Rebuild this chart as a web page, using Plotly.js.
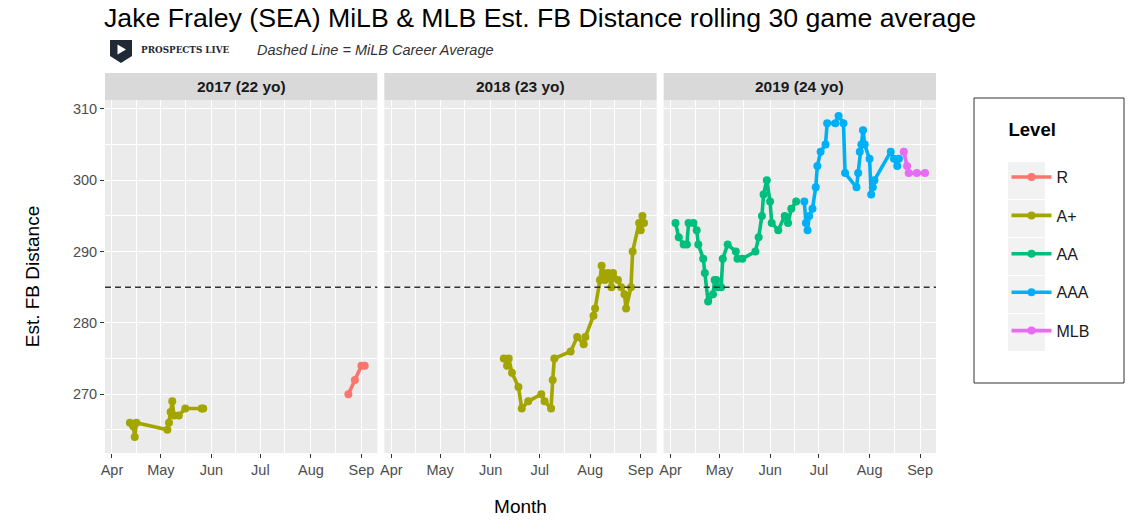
<!DOCTYPE html>
<html><head><meta charset="utf-8">
<script src="https://cdn.plot.ly/plotly-3.0.1.min.js"></script>
<style>body{margin:0;background:#fff}#chart{width:1136px;height:530px}</style>
</head><body><div id="chart"></div>
<script>
// ---------------- DATA ----------------
const levels = ['R', 'A+', 'AA', 'AAA', 'MLB'];
const levelColors = ['#F8766D', '#A3A500', '#00BF7D', '#00B0F6', '#E76BF3'];
const panelTitles = ['2017 (22 yo)', '2018 (23 yo)', '2019 (24 yo)'];
const panelYears = [2017, 2018, 2019];
const careerAvg = 285;

const d2017_Aplus_dates = ['2017-04-12','2017-04-14','2017-04-15','2017-04-16','2017-05-05','2017-05-06','2017-05-07','2017-05-08','2017-05-09','2017-05-12','2017-05-16','2017-05-26','2017-05-27'];
const d2017_Aplus_vals  = [266, 265.5, 264, 266, 265, 266, 267.5, 269, 267, 267, 268, 268, 268];
const d2017_R_dates = ['2017-08-24','2017-08-28','2017-09-01','2017-09-03'];
const d2017_R_vals  = [270, 272, 274, 274];

const d2018_Aplus_dates = ['2018-06-09','2018-06-11','2018-06-12','2018-06-14','2018-06-18','2018-06-20','2018-06-24','2018-07-02','2018-07-04','2018-07-08','2018-07-09','2018-07-10','2018-07-20','2018-07-24','2018-07-28','2018-07-29','2018-08-03','2018-08-04','2018-08-07','2018-08-08','2018-08-09','2018-08-10','2018-08-12','2018-08-14','2018-08-15','2018-08-18','2018-08-20','2018-08-22','2018-08-23','2018-08-26','2018-08-27','2018-08-31','2018-09-01','2018-09-02','2018-09-03'];
const d2018_Aplus_vals  = [275, 274, 275, 273, 271, 268, 269, 270, 269, 268, 272, 275, 276, 278, 277, 278, 281, 282, 286, 288, 287, 286, 287, 285, 287, 286, 285, 284, 282, 285, 290, 294, 293, 295, 294];

const d2019_AA_dates = ['2019-04-04','2019-04-06','2019-04-09','2019-04-11','2019-04-12','2019-04-15','2019-04-17','2019-04-18','2019-04-21','2019-04-22','2019-04-24','2019-04-27','2019-04-28','2019-04-29','2019-04-30','2019-05-02','2019-05-03','2019-05-06','2019-05-11','2019-05-12','2019-05-15','2019-05-23','2019-05-25','2019-05-27','2019-05-28','2019-05-30','2019-06-01','2019-06-02','2019-06-06','2019-06-10','2019-06-12','2019-06-14','2019-06-17'];
const d2019_AA_vals  = [294, 292, 291, 291, 294, 294, 293, 291, 289, 287, 283, 284, 286, 286, 285, 285, 289, 291, 290, 289, 289, 290, 292, 295, 298, 300, 297, 294, 293, 295, 294, 296, 297];
const d2019_AAA_dates = ['2019-06-22','2019-06-23','2019-06-24','2019-06-25','2019-06-27','2019-06-29','2019-06-30','2019-07-02','2019-07-05','2019-07-06','2019-07-11','2019-07-13','2019-07-16','2019-07-17','2019-07-24','2019-07-25','2019-07-26','2019-07-27','2019-07-28','2019-07-29','2019-08-01','2019-08-02','2019-08-03','2019-08-04','2019-08-14','2019-08-16','2019-08-18','2019-08-19'];
const d2019_AAA_vals  = [297, 294, 293, 295, 296, 299, 302, 304, 305, 308, 308, 309, 308, 301, 299, 301, 304, 305, 307, 305, 303, 298, 299, 300, 304, 303, 302, 303];
const d2019_MLB_dates = ['2019-08-22','2019-08-24','2019-08-25','2019-08-30','2019-09-04'];
const d2019_MLB_vals  = [304, 302, 301, 301, 301];

const yTicks = [270, 280, 290, 300, 310];

// ---------------- LAYOUT HELPERS ----------------
const W = 1136, H = 530, ML = 105, MR = 200, MT = 100, MB = 77;
const PW = W - ML - MR, PH = H - MT - MB;
const px = x => (x - ML) / PW;
const py = y => (H - MB - y) / PH;

const panelSeries = [
  [['A+', d2017_Aplus_dates, d2017_Aplus_vals], ['R', d2017_R_dates, d2017_R_vals]],
  [['A+', d2018_Aplus_dates, d2018_Aplus_vals]],
  [['AA', d2019_AA_dates, d2019_AA_vals], ['AAA', d2019_AAA_dates, d2019_AAA_vals], ['MLB', d2019_MLB_dates, d2019_MLB_vals]]
];

const traces = [];
const shown = {};
panelSeries.forEach((series, p) => {
  series.forEach(([lvl, dates, vals]) => {
    const li = levels.indexOf(lvl);
    traces.push({
      type: 'scatter', mode: 'lines+markers',
      x: dates, y: vals,
      xaxis: p === 0 ? 'x' : 'x' + (p + 1),
      yaxis: p === 0 ? 'y' : 'y' + (p + 1),
      name: lvl, legendgroup: lvl, legendrank: li + 1,
      showlegend: !shown[lvl],
      line: {color: levelColors[li], width: 3.6},
      marker: {color: levelColors[li], size: 8},
      hoverinfo: 'x+y+name'
    });
    shown[lvl] = true;
  });
});

const gap = 7 / PW;
const pw = (1 - 2 * gap) / 3;
const domains = [[0, pw], [pw + gap, 2 * pw + gap], [1 - pw, 1]];

const font = 'Liberation Sans, Arial, sans-serif';
const layout = {
  width: W, height: H,
  margin: {l: ML, r: MR, t: MT, b: MB, pad: 0},
  paper_bgcolor: '#FFFFFF', plot_bgcolor: '#EBEBEB',
  font: {family: font, color: '#4D4D4D', size: 14.5},
  title: {text: 'Jake Fraley (SEA) MiLB & MLB Est. FB Distance rolling 30 game average',
          font: {family: font, size: 26.7, color: '#000000'},
          xref: 'container', x: 104 / W, xanchor: 'left',
          yref: 'container', y: 1 - 18 / H, yanchor: 'middle'},
  showlegend: true,
  legend: {
    x: px(1006.5), xanchor: 'left', y: py(112), yanchor: 'top',
    bgcolor: 'rgba(0,0,0,0)', borderwidth: 0,
    font: {family: font, size: 16, color: '#1A1A1A'},
    title: {text: '<b>Level</b><br> ', font: {family: font, size: 18.5, color: '#000000'}},
    itemwidth: 40,
    tracegroupgap: 14.6, traceorder: 'grouped', itemclick: false
  },
  shapes: [], annotations: []
};
// nudge legend items slightly lower relative to the title
layout.legend.title.text = '<b>Level</b><br><span style="font-size:21px"> </span>';

panelSeries.forEach((s, p) => {
  const xa = p === 0 ? 'xaxis' : 'xaxis' + (p + 1);
  const ya = p === 0 ? 'yaxis' : 'yaxis' + (p + 1);
  const yr = panelYears[p];
  layout[xa] = {
    domain: domains[p], anchor: p === 0 ? 'y' : 'y' + (p + 1),
    type: 'date', range: [yr + '-03-27 18:00', yr + '-09-10 18:00'],
    tick0: yr + '-04-01', dtick: 'M1', tickformat: '%b',
    ticks: 'outside', ticklen: 4, tickwidth: 1, tickcolor: '#333333',
    showgrid: true, gridcolor: '#FFFFFF', gridwidth: 1.3,
    minor: {tick0: yr + '-04-16', dtick: 'M1', showgrid: true, gridcolor: '#FFFFFF', gridwidth: 0.6, ticks: ''},
    zeroline: false, showline: false, fixedrange: true,
    tickfont: {family: font, size: 14.5, color: '#4D4D4D'}
  };
  layout[ya] = {
    domain: [0, 1], anchor: p === 0 ? 'x' : 'x' + (p + 1),
    range: [261.75, 311.25], tickvals: yTicks,
    ticks: p === 0 ? 'outside' : '', ticklen: 4, tickwidth: 1, tickcolor: '#333333',
    showticklabels: p === 0,
    showgrid: true, gridcolor: '#FFFFFF', gridwidth: 1.3,
    minor: {dtick: 5, tick0: 265, showgrid: true, gridcolor: '#FFFFFF', gridwidth: 0.6, ticks: ''},
    zeroline: false, showline: false, fixedrange: true,
    tickfont: {family: font, size: 14.5, color: '#4D4D4D'}
  };
  if (p > 0) layout[ya].matches = 'y';
  const xr = p === 0 ? 'x' : 'x' + (p + 1);
  const yrf = p === 0 ? 'y' : 'y' + (p + 1);
  // career average dashed line
  layout.shapes.push({type: 'line', xref: xr + ' domain', yref: yrf, x0: 0, x1: 1, y0: careerAvg, y1: careerAvg,
    line: {color: '#333333', width: 1.5, dash: '6px,4px'}, layer: 'above'});
  // strip
  layout.shapes.push({type: 'rect', xref: xr + ' domain', yref: 'paper', x0: 0, x1: 1, y0: 1, y1: 1 + 27 / PH,
    fillcolor: '#D9D9D9', line: {width: 0}, layer: 'above'});
  layout.annotations.push({xref: xr + ' domain', yref: 'paper', x: 0.5, y: 1 + 13.5 / PH, xanchor: 'center', yanchor: 'middle',
    text: '<b>' + panelTitles[p] + '</b>', showarrow: false, font: {family: font, size: 15.5, color: '#1A1A1A'}});
});

layout.yaxis.title = {text: 'Est. FB Distance', font: {family: font, size: 19, color: '#000000'}, standoff: 28};
layout.xaxis2.title = {text: 'Month', font: {family: font, size: 19, color: '#000000'}, standoff: 22};

// subtitle line: logo + text
layout.shapes.push({type: 'path', xref: 'paper', yref: 'paper', layer: 'above',
  path: `M${px(110)},${py(40)} L${px(132)},${py(40)} L${px(132)},${py(56)} L${px(121)},${py(63)} L${px(110)},${py(56)} Z`,
  fillcolor: '#1F2A36', line: {width: 0}});
layout.shapes.push({type: 'path', xref: 'paper', yref: 'paper', layer: 'above',
  path: `M${px(117.5)},${py(44.5)} L${px(117.5)},${py(54.5)} L${px(126)},${py(49.5)} Z`,
  fillcolor: '#FFFFFF', line: {width: 0}});
layout.annotations.push({xref: 'paper', yref: 'paper', x: px(139), y: py(50), xanchor: 'left', yanchor: 'middle',
  text: '<b>PROSPECTS LIVE</b>', showarrow: false,
  font: {family: 'DejaVu Serif Condensed, DejaVu Serif, serif', size: 9.8, color: '#1F2A36'}});
layout.annotations.push({xref: 'paper', yref: 'paper', x: px(255), y: py(50), xanchor: 'left', yanchor: 'middle',
  text: '<i>Dashed Line = MiLB Career Average</i>', showarrow: false, font: {family: font, size: 14.5, color: '#333333'}});

// legend box and key backgrounds
layout.shapes.push({type: 'rect', xref: 'paper', yref: 'paper', x0: px(974), x1: px(1124), y0: py(383), y1: py(98),
  line: {color: '#333333', width: 1}, fillcolor: 'rgba(0,0,0,0)', layer: 'above'});
for (let i = 0; i < levels.length; i++) {
  const top = 162 + i * 38;
  layout.shapes.push({type: 'rect', xref: 'paper', yref: 'paper', x0: px(1008), x1: px(1045), y0: py(top + 37), y1: py(top),
    fillcolor: '#F2F2F2', line: {width: 0}, layer: 'above'});
}

Plotly.newPlot('chart', traces, layout, {displayModeBar: false, staticPlot: false});
</script>
</body></html>
